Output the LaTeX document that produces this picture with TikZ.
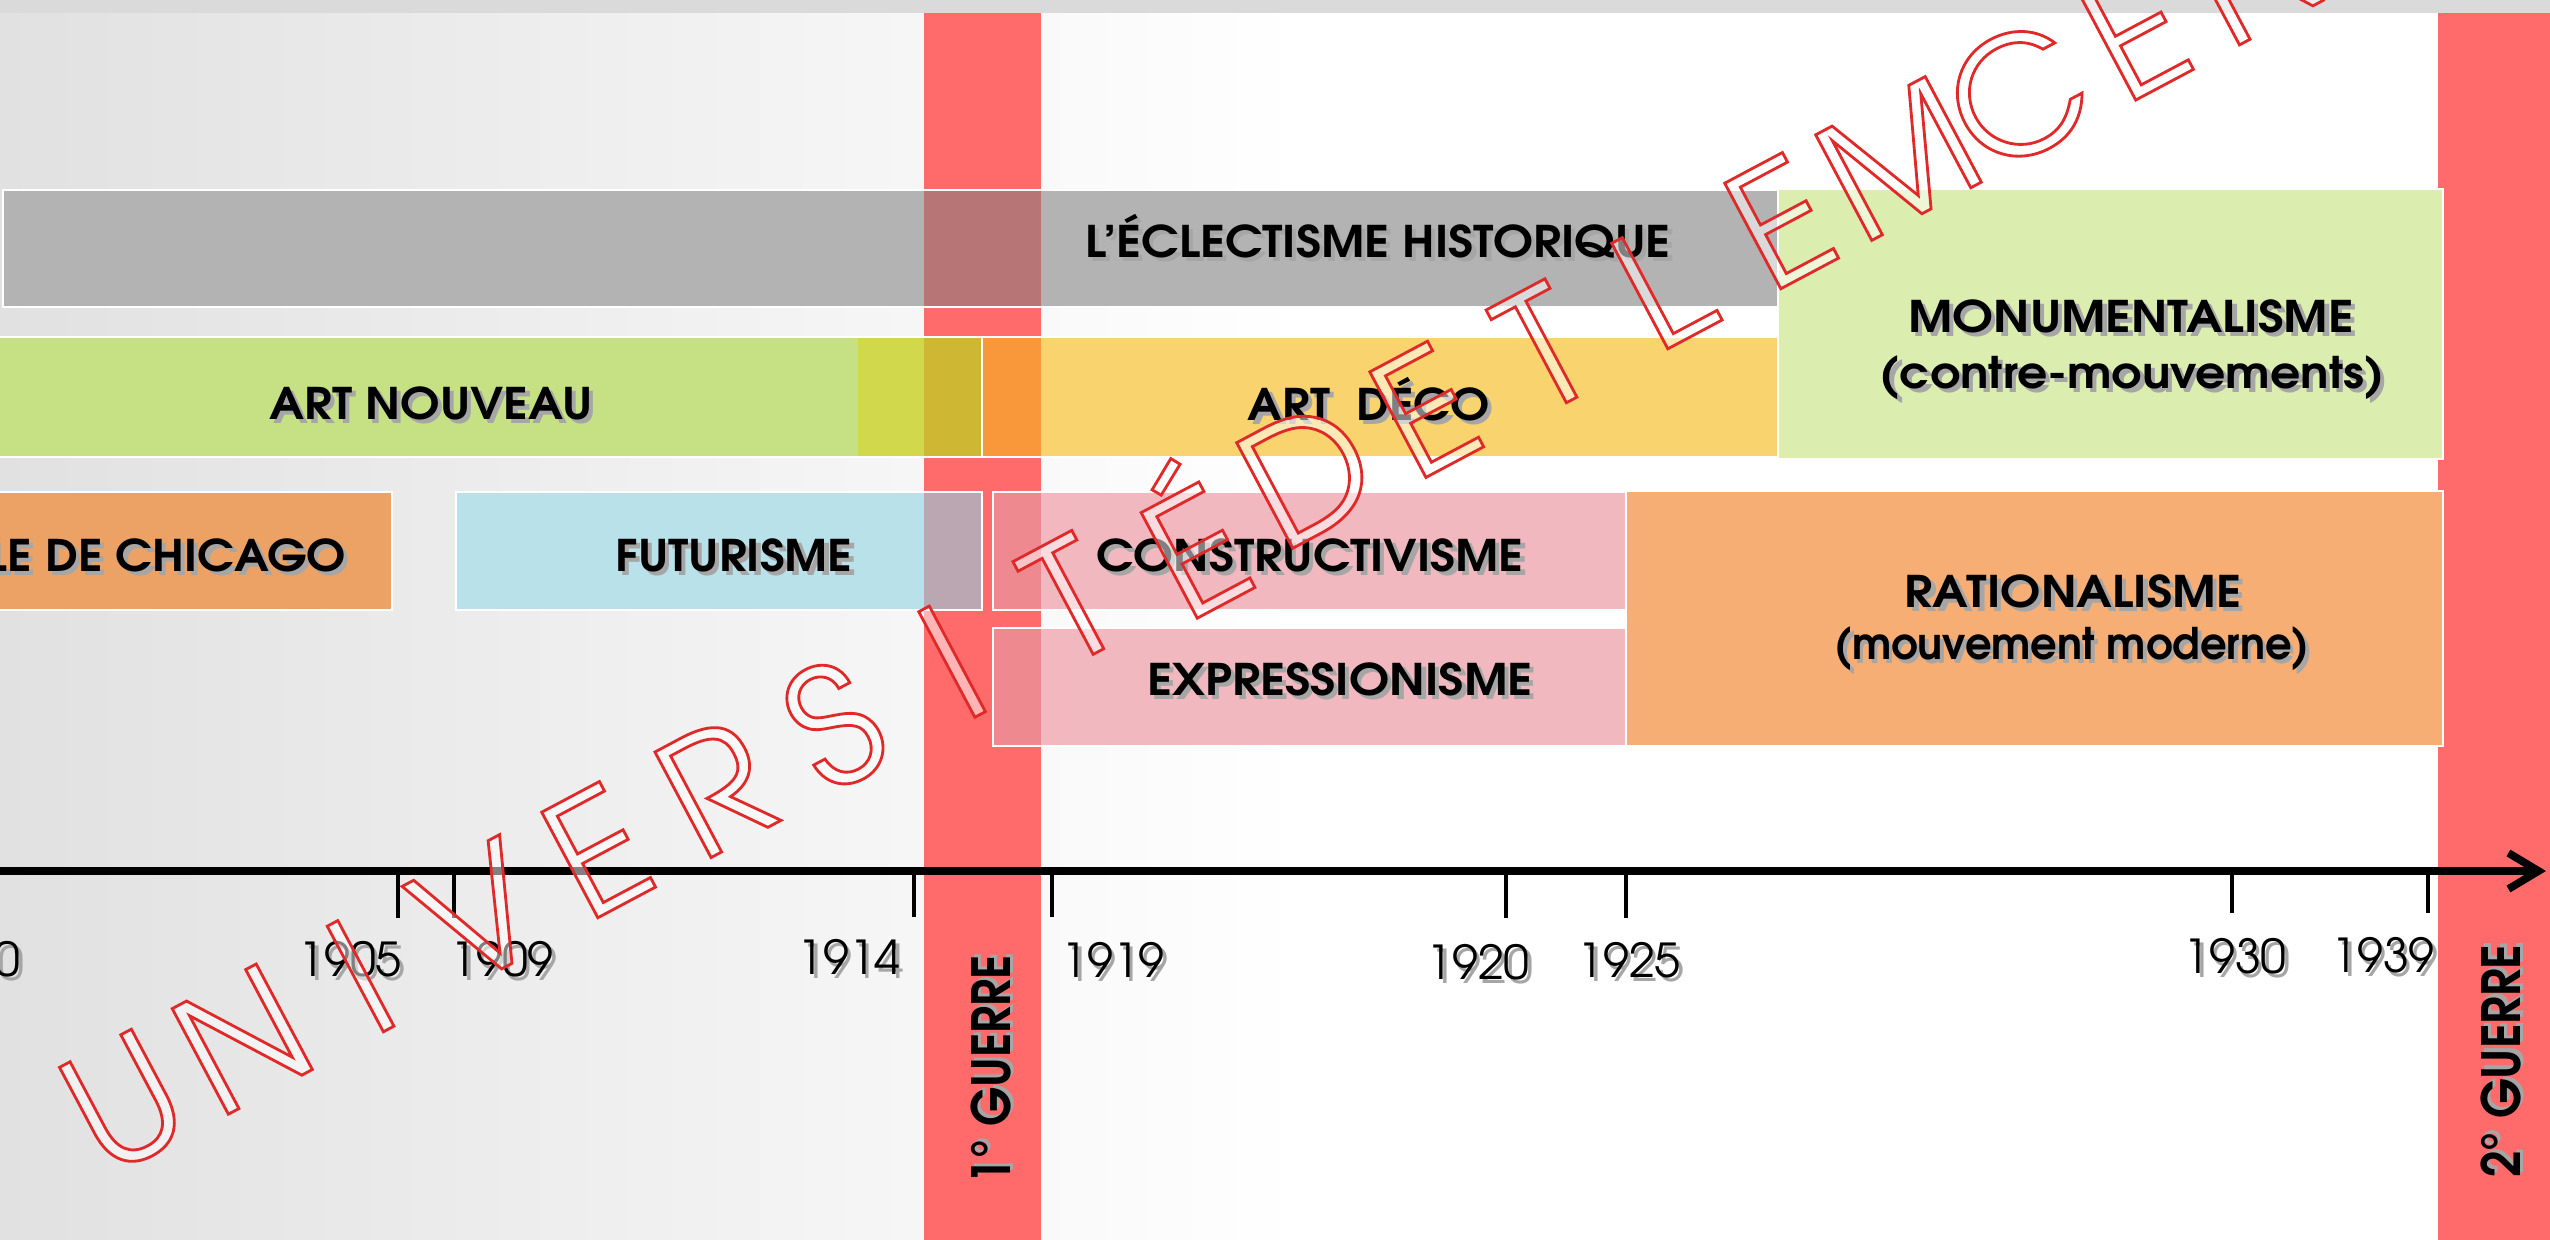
\documentclass[tikz,border=0pt]{standalone}
\usepackage{fontspec}
\setmainfont{texgyreadventor}[Extension=.otf, UprightFont=*-regular, BoldFont=*-bold, ItalicFont=*-italic, BoldItalicFont=*-bolditalic]
\usepackage{graphicx}
\usepackage{xcolor}
\usetikzlibrary{arrows.meta}

\definecolor{topgray}{HTML}{DADADA}
\definecolor{bgleft}{HTML}{E1E1E1}
\definecolor{warred}{HTML}{FF6B6B}
\definecolor{eclgray}{HTML}{B3B3B3}
\definecolor{eclred}{HTML}{B77575}
\definecolor{nouvgreen}{HTML}{C6E184}
\definecolor{transgreen}{HTML}{D2D84C}
\definecolor{transred}{HTML}{CEB833}
\definecolor{decoyellow}{HTML}{F9D46E}
\definecolor{decored}{HTML}{F9983A}
\definecolor{monugreen}{HTML}{DCEDB0}
\definecolor{chicorange}{HTML}{ECA264}
\definecolor{futblue}{HTML}{B9E1EA}
\definecolor{futred}{HTML}{BBA7B2}
\definecolor{constpink}{HTML}{F1B9BF}
\definecolor{constred}{HTML}{EE8A8F}
\definecolor{ratorange}{HTML}{F6AE74}
\definecolor{wmred}{HTML}{E02A2A}

\newcommand{\shadowed}[1]{\makebox[0pt][l]{\hspace{1.1pt}\raisebox{-1.1pt}{\textcolor{black!35}{#1}}}#1}
\newcommand{\fitto}[2]{\resizebox{#1}{\height}{#2}} % width only, height kept
\newcommand{\hollow}[1]{\special{pdf:literal direct 1 Tr 0.8 w}#1\special{pdf:literal direct 0 Tr}}
\newcommand{\yearmark}[5]{ % tick x, tick end y, label x, label baseline y, year
    \draw[tick] (#1,871) -- (#1,#2);
    \node[date] (y#5) at (#3,#4) {\shadowed{#5}};
}

\begin{document}
\begin{tikzpicture}[x=0.01cm, y=-0.01cm,
    lbl/.style={anchor=base, inner sep=0pt, font=\fontsize{12.4}{14}\selectfont\bfseries},
    date/.style={anchor=base, inner sep=0pt, font=\fontsize{13.3}{14}\selectfont},
    war/.style={anchor=base, inner sep=0pt, rotate=90, font=\fontsize{15}{16}\selectfont\bfseries},
    wm/.style={inner sep=0pt, rotate=28, text=wmred, font=\fontsize{46}{48}\selectfont},
    wmfill/.style={wm, text=white, text opacity=0.5},
    box/.style={draw=white, line width=0.6pt},
    tick/.style={line width=1pt}]
    \useasboundingbox (0,0) rectangle (2550,1240);
    \clip (0,0) rectangle (2550,1240);

    % Background
    \shade[left color=bgleft, right color=white] (0,0) rectangle (1300,1240);
    \fill[white] (1300,0) rectangle (2550,1240);
    \fill[topgray] (0,0) rectangle (2550,13);

    % Wars
    \fill[warred] (924,13) rectangle (1041,1240);
    \fill[warred] (2438,13) rectangle (2550,1240);

    % First row
    \fill[eclgray] (3,190) rectangle (1778,307);
    \fill[eclred] (924,190) rectangle (1041,307);
    \draw[box] (3,190) rectangle (1778,307);

    % Second row
    \fill[nouvgreen] (0,337) rectangle (858,457);
    \fill[transgreen] (858,337) rectangle (982,457);
    \fill[transred] (924,337) rectangle (982,457);
    \draw[box] (-5,337) rectangle (982,457);
    \fill[decoyellow] (982,337) rectangle (1778,457);
    \fill[decored] (982,337) rectangle (1041,457);
    \draw[box] (982,337) rectangle (1778,457);
    \fill[monugreen] (1778,189) rectangle (2443,459);
    \draw[box] (1778,189) rectangle (2443,459);

    % Third row
    \fill[chicorange] (-5,492) rectangle (392,610);
    \draw[box] (-5,492) rectangle (392,610);
    \fill[futblue] (456,492) rectangle (982,610);
    \fill[futred] (924,492) rectangle (982,610);
    \draw[box] (456,492) rectangle (982,610);
    \fill[constpink] (993,492) rectangle (1626,610);
    \fill[constred] (993,492) rectangle (1041,610);
    \draw[box] (993,492) rectangle (1626,610);
    \fill[constpink] (993,628) rectangle (1626,746);
    \fill[constred] (993,628) rectangle (1041,746);
    \draw[box] (993,628) rectangle (1626,746);
    \fill[ratorange] (1626,491) rectangle (2443,746);
    \draw[box] (1626,491) rectangle (2443,746);

    % Labels
    \node[lbl] (eclect) at (1378,258) {\fitto{5.85cm}{\shadowed{L’ÉCLECTISME HISTORIQUE}}};
    \node[lbl] (nouveau) at (431,420) {\fitto{3.23cm}{\shadowed{ART NOUVEAU}}};
    \node[lbl] (deco) at (1369,421) {\fitto{2.42cm}{\shadowed{ART~~DÉCO}}};
    \node[lbl] (monument) at (2131,333) {\fitto{4.45cm}{\shadowed{MONUMENTALISME}}};
    \node[lbl] (contre) at (2132,389) {\fitto{5.04cm}{\shadowed{(contre-mouvements)}}};
    \node[lbl, anchor=base east] (chicago) at (347,572) {\scalebox{1.08}[1]{\shadowed{ÉCOLE DE CHICAGO}}};
    \node[lbl] (futur) at (734,572) {\fitto{2.37cm}{\shadowed{FUTURISME}}};
    \node[lbl] (constr) at (1310,572) {\fitto{4.27cm}{\shadowed{CONSTRUCTIVISME}}};
    \node[lbl] (expr) at (1340,696) {\fitto{3.85cm}{\shadowed{EXPRESSIONISME}}};
    \node[lbl] (ration) at (2073,608) {\fitto{3.36cm}{\shadowed{RATIONALISME}}};
    \node[lbl] (moderne) at (2072,660) {\fitto{4.75cm}{\shadowed{(mouvement moderne)}}};
    \node[war] (guerre1) at (1010,1070) {\fitto{2.29cm}{\shadowed{1° GUERRE}}};
    \node[war] (guerre2) at (2520,1061) {\fitto{2.33cm}{\shadowed{2° GUERRE}}};

    % Time axis
    \coordinate (axl) at (0,871);
    \coordinate (axr) at (2546,871);
    \draw[line width=2.2pt, -{Straight Barb[length=0.3cm, width=0.36cm]}] (axl) -- (axr);
    \node[date, anchor=base east] (y1900) at (21,977) {\shadowed{1900}};
    \yearmark{398}{918}{350}{977}{1905}
    \yearmark{454}{918}{502}{977}{1909}
    \yearmark{914}{917}{849}{975}{1914}
    \yearmark{1052}{917}{1113}{978}{1919}
    \yearmark{1506}{918}{1478}{980}{1920}
    \yearmark{1626}{918}{1629}{978}{1925}
    \yearmark{2232}{913}{2235}{974}{1930}
    \yearmark{2428}{913}{2383}{973}{1939}

    % Watermark
    \foreach \ch [count=\k from 0] in {U,N,I,V,E,R,S,I,T,É,D,E,T,L,E,M,C,E,N}{
        \node[wmfill] (wmf\k) at ({124+118.3*\k},{1102-62.9*\k}) {\ch};
        \node[wm] (wm\k) at ({124+118.3*\k},{1102-62.9*\k}) {\hollow{\ch}};
    }
\end{tikzpicture}
\end{document}
